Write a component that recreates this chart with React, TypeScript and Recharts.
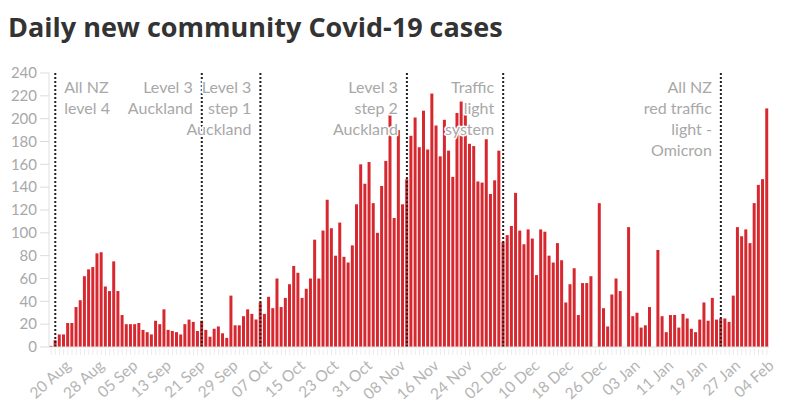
import React from 'react';
import { BarChart, Bar, XAxis, YAxis, ReferenceLine } from 'recharts';

// Daily new community cases, 17 Aug 2021 – 04 Feb 2022 (null = no report that day)
const CASES_AUG = [1, 6, 11, 11, 21, 21, 35, 41, 62, 68, 70, 82, 83, 53, 49];
const CASES_SEP = [
  75, 49, 28, 20, 20, 20, 21, 15, 13, 11, 23, 20, 33, 15, 14,
  13, 11, 20, 24, 22, 14, 23, 15, 9, 16, 18, 12, 8, 45, 19,
];
const CASES_OCT = [
  19, 27, 33, 29, 24, 39, 29, 44, 34, 60, 35, 43, 55, 71, 65, 43,
  51, 60, 94, 60, 102, 129, 104, 80, 109, 79, 74, 89, 125, 160, 143,
];
const CASES_NOV = [
  162, 126, 100, 141, 163, 206, 113, 190, 125, 147, 185, 201, 175, 207, 173,
  222, 194, 167, 199, 172, 149, 205, 215, 204, 178, 176, 145, 144, 182, 134,
];
const CASES_DEC = [
  146, 172, 92, 98, 106, 135, 102, 90, 103, 95, 63, 103, 101, 80, 74, 91,
  76, 39, 55, 69, 28, 56, 56, 62, null, 126, 34, 18, 46, 60, 49,
];
const CASES_JAN = [
  null, 105, 27, 30, 17, 19, 35, null, 85, 27, 13, 28, 28, 17, 29, 25,
  16, 13, 24, 39, 23, 43, 24, 25, 25, 22, 45, 105, 97, 103, 91,
];
const CASES_FEB = [126, 142, 147, 209];

const DAILY_CASES: (number | null)[] = [
  ...CASES_AUG, ...CASES_SEP, ...CASES_OCT, ...CASES_NOV,
  ...CASES_DEC, ...CASES_JAN, ...CASES_FEB,
];

const MONTH_NAMES = ['Jan', 'Feb', 'Mar', 'Apr', 'May', 'Jun', 'Jul', 'Aug', 'Sep', 'Oct', 'Nov', 'Dec'];

// One category per calendar day, starting 17 Aug 2021
const DAY_LABELS = DAILY_CASES.map((_, i) => {
  const d = new Date(2021, 7, 17 + i);
  return `${String(d.getDate()).padStart(2, '0')} ${MONTH_NAMES[d.getMonth()]}`;
});

const TICK_LABELS = [
  '20 Aug', '28 Aug', '05 Sep', '13 Sep', '21 Sep', '29 Sep', '07 Oct', '15 Oct',
  '23 Oct', '31 Oct', '08 Nov', '16 Nov', '24 Nov', '02 Dec', '10 Dec', '18 Dec',
  '26 Dec', '03 Jan', '11 Jan', '19 Jan', '27 Jan', '04 Feb',
];

const Y_TICKS = [0, 20, 40, 60, 80, 100, 120, 140, 160, 180, 200, 220, 240];

const EVENT_DAYS = ['18 Aug', '22 Sep', '06 Oct', '10 Nov', '03 Dec', '24 Jan'];
const EVENT_TEXT = [
  ['All NZ', 'level 4'],
  ['Level 3', 'Auckland'],
  ['Level 3', 'step 1', 'Auckland'],
  ['Level 3', 'step 2', 'Auckland'],
  ['Traffic', 'light', 'system'],
  ['All NZ', 'red traffic', 'light -', 'Omicron'],
];
const EVENT_SIDE = ['right', 'left', 'left', 'left', 'left', 'left'];

const chartData = DAY_LABELS.map((day, i) => ({ day, cases: DAILY_CASES[i] }));

const FONT = 'Lato, "Open Sans", sans-serif';
const GREY_TEXT = '#a8a8a8';

const DayTick = (props: any) => {
  const { x, y, payload } = props;
  const labelled = TICK_LABELS.includes(payload.value);
  const lx = x + 8;
  const ly = y + 20;
  return (
    <g>
      <line x1={x} x2={x} y1={y + 2} y2={y + 8} stroke="#ebebeb" strokeWidth={1} />
      {labelled && (
        <text
          x={lx}
          y={ly}
          textAnchor="end"
          transform={`rotate(-42 ${lx} ${ly})`}
          fill="#b4b4b4"
          fontSize={15.5}
          fontFamily={FONT}
        >
          {payload.value}
        </text>
      )}
    </g>
  );
};

const makeEventLabel = (lines: string[], side: string) => (props: any) => {
  const vb = props.viewBox || {};
  const tx = side === 'right' ? vb.x + 9 : vb.x - 9;
  const top = vb.y;
  return (
    <text
      textAnchor={side === 'right' ? 'start' : 'end'}
      fill={GREY_TEXT}
      fontSize={16}
      fontFamily={FONT}
      stroke="#ffffff"
      strokeWidth={3}
      paintOrder="stroke"
      strokeLinejoin="round"
    >
      {lines.map((line, i) => (
        <tspan key={i} x={tx} y={top + 20 + 21 * i}>
          {line}
        </tspan>
      ))}
    </text>
  );
};

export default function App() {
  return (
    <div style={{ position: 'absolute', left: 0, top: 0, width: 794, height: 405, background: '#fff' }}>
      <div
        style={{
          position: 'absolute',
          left: 8,
          top: 13,
          fontFamily: '"Open Sans", Lato, sans-serif',
          fontWeight: 700,
          fontSize: 27,
          lineHeight: '27px',
          color: '#333333',
          whiteSpace: 'nowrap',
        }}
      >
        Daily new community Covid-19 cases
      </div>
      <BarChart
        width={794}
        height={405}
        data={chartData}
        margin={{ top: 73, right: 25, bottom: 8, left: 0 }}
        barCategoryGap="10%"
      >
        <XAxis
          dataKey="day"
          interval={0}
          tickLine={false}
          tickSize={0}
          tickMargin={0}
          height={50}
          axisLine={{ stroke: '#dcdcdc' }}
          tick={<DayTick />}
        />
        <YAxis
          width={49}
          domain={[0, 240]}
          ticks={Y_TICKS}
          interval={0}
          tickSize={9}
          tickMargin={3}
          axisLine={{ stroke: '#e0e0e0' }}
          tickLine={{ stroke: '#dcdcdc' }}
          tick={{ fill: GREY_TEXT, fontSize: 15, fontFamily: FONT }}
        />
        <Bar dataKey="cases" fill="#d7282f" isAnimationActive={false} />
        {EVENT_DAYS.map((day, i) => (
          <ReferenceLine
            key={day}
            x={day}
            stroke="#222"
            strokeWidth={2}
            strokeDasharray="2 2"
            label={makeEventLabel(EVENT_TEXT[i], EVENT_SIDE[i])}
          />
        ))}
      </BarChart>
    </div>
  );
}
